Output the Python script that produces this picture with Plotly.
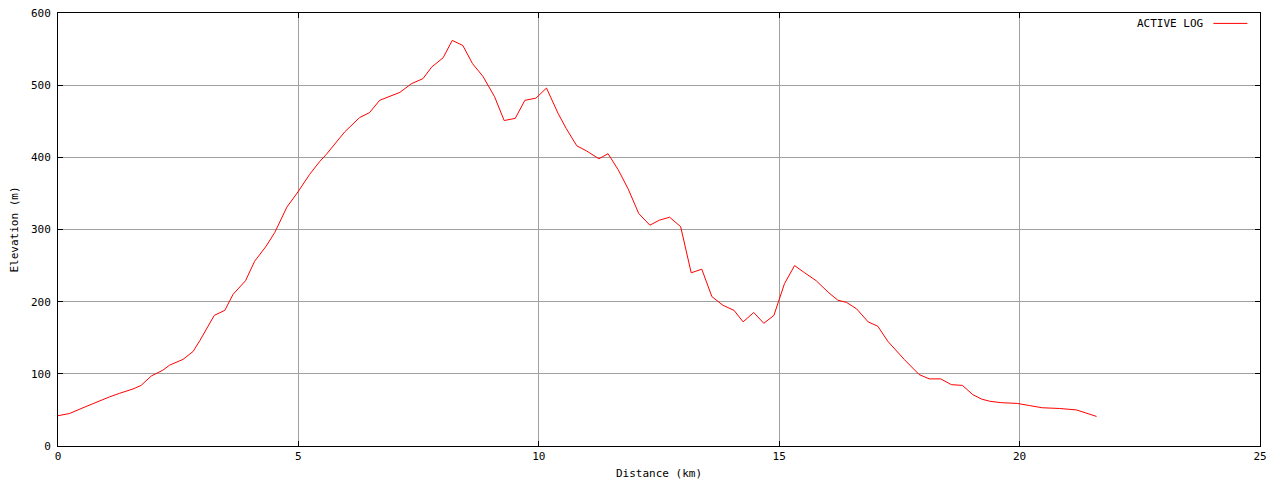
import plotly.graph_objects as go

distance_km = [0.00, 0.24, 0.52, 0.87, 1.07, 1.28, 1.56, 1.73, 1.94, 2.18, 2.32, 2.60, 2.81, 2.95,
               3.25, 3.47, 3.64, 3.90, 4.09, 4.33, 4.51, 4.76, 4.99, 5.23, 5.44, 5.58, 5.79, 5.96,
               6.27, 6.48, 6.69, 7.11, 7.35, 7.59, 7.77, 8.01, 8.20, 8.42, 8.62, 8.84, 9.08, 9.28,
               9.51, 9.71, 9.94, 10.16, 10.40, 10.57, 10.79, 10.99, 11.25, 11.44, 11.65, 11.86,
               12.08, 12.31, 12.51, 12.72, 12.95, 13.17, 13.39, 13.60, 13.83, 14.06, 14.25, 14.47,
               14.68, 14.89, 15.11, 15.32, 15.53, 15.77, 16.02, 16.22, 16.40, 16.61, 16.85, 17.05,
               17.26, 17.60, 17.91, 18.12, 18.36, 18.58, 18.81, 19.03, 19.21, 19.38, 19.62, 19.95,
               20.21, 20.47, 20.83, 21.18, 21.60]
elevation_m = [42, 45, 53, 63, 68, 73, 79, 84, 97, 105, 112, 120, 131, 146,
               181, 188, 210, 229, 256, 277, 296, 331, 352, 376, 394, 404, 422, 435,
               455, 462, 479, 490, 502, 509, 525, 538, 562, 555, 530, 512, 484, 451,
               454, 479, 482, 496, 461, 440, 416, 409, 398, 405, 383, 356,
               322, 306, 313, 317, 304, 240, 245, 207, 195, 188, 172, 185,
               170, 181, 225, 250, 240, 229, 213, 202, 199, 190, 172, 166,
               145, 120, 99, 93, 93, 85, 84, 71, 65, 62, 60, 59,
               56, 53, 52, 50, 41]

x_ticks = [0, 5, 10, 15, 20, 25]
y_ticks = [0, 100, 200, 300, 400, 500, 600]
series_name = "ACTIVE LOG"

FONT = dict(family="DejaVu Sans Mono, Liberation Mono, monospace", size=11, color="black")

fig = go.Figure()
fig.add_trace(go.Scatter(x=distance_km, y=elevation_m, mode="lines", name=series_name,
                         line=dict(color="#ff0000", width=1), showlegend=False))

axis_common = dict(showline=True, linecolor="black", linewidth=1, mirror="allticks",
                   ticks="inside", ticklen=5, tickcolor="black", tickwidth=1,
                   showgrid=True, gridcolor="#a0a0a0", gridwidth=1, zeroline=False,
                   tickfont=FONT, automargin=False, ticklabeloverflow="allow")

fig.update_xaxes(range=[0, 25], tickvals=x_ticks, ticktext=[str(v) for v in x_ticks],
                 title=dict(text="Distance (km)", font=FONT, standoff=7), **axis_common)
fig.update_yaxes(range=[0, 600], tickvals=y_ticks, ticktext=[str(v) for v in y_ticks],
                 ticklabelstandoff=4,
                 title=dict(text="Elevation (m)", font=FONT, standoff=17), **axis_common)

# gnuplot-style key: label text, then line sample to its right
fig.add_annotation(xref="paper", yref="paper", x=0.9545, y=0.976, xanchor="right", yanchor="middle",
                   text=series_name, showarrow=False, font=FONT)
fig.add_shape(type="line", xref="paper", yref="paper", x0=0.9612, x1=0.9895, y0=0.976, y1=0.976,
              line=dict(color="#ff0000", width=1))

fig.update_layout(width=1280, height=480, margin=dict(l=50, r=28, t=5, b=42),
                  plot_bgcolor="white", paper_bgcolor="white", font=FONT)
fig.write_html("out.html")
